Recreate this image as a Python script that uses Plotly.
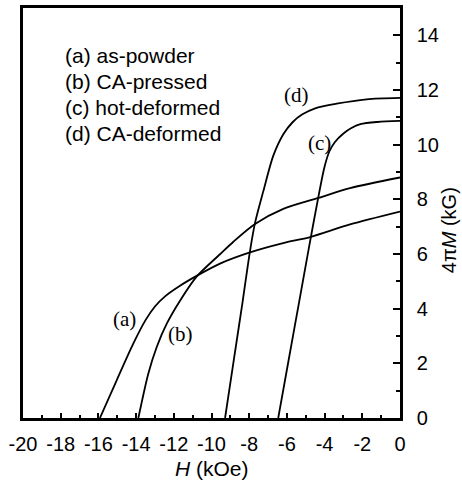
import plotly.graph_objects as go

# Curve data: H (kOe) and 4piM (kG)
a_H = [-15.92, -15.03, -14.15, -13.5, -13.0, -12.45, -11.67, -10.79, -9.55, -7.96, -6.2, -4.77, -2.65, 0]
a_M = [0, 1.38, 2.72, 3.58, 4.08, 4.46, 4.84, 5.2, 5.65, 6.06, 6.4, 6.62, 7.08, 7.55]

b_H = [-13.88, -13.35, -12.91, -12.38, -11.67, -10.79, -9.55, -8.84, -7.69, -6.19, -4.33, -2.65, 0]
b_M = [0, 1.63, 2.59, 3.44, 4.29, 5.17, 5.99, 6.45, 7.1, 7.65, 8.05, 8.41, 8.8]

c_H = [-6.46, -5.9, -5.35, -4.8, -4.3, -4.0, -3.75, -3.45, -3.0, -2.6, -2.1, -1.2, 0]
c_M = [0, 2.15, 4.25, 6.35, 8.2, 9.2, 9.75, 10.1, 10.41, 10.6, 10.75, 10.83, 10.87]

d_H = [-9.28, -8.8, -8.35, -7.96, -7.69, -7.25, -6.72, -6.19, -5.7, -5.2, -4.5, -3.36, -1.77, 0]
d_M = [0, 2.2, 4.25, 6.1, 7.14, 8.3, 9.6, 10.38, 10.82, 11.1, 11.33, 11.5, 11.66, 11.71]

x_ticks = [-20, -18, -16, -14, -12, -10, -8, -6, -4, -2, 0]
x_ticklabels = ["-20", "-18", "-16", "-14", "-12", "-10", "-8", "-6", "-4", "-2", "0"]
y_ticks = [0, 2, 4, 6, 8, 10, 12, 14]
y_ticklabels = ["0", "2", "4", "6", "8", "10", "12", "14"]

legend_lines = ["(a) as-powder", "(b) CA-pressed", "(c) hot-deformed", "(d) CA-deformed"]
curve_labels = ["(a)", "(b)", "(c)", "(d)"]
curve_label_H = [-14.59, -11.67, -4.28, -5.48]
curve_label_M = [3.62, 3.08, 10.05, 11.83]

fig = go.Figure()
for hs, ms in [(a_H, a_M), (b_H, b_M), (c_H, c_M), (d_H, d_M)]:
    fig.add_trace(go.Scatter(x=hs, y=ms, mode="lines",
                             line=dict(color="black", width=1.8, shape="spline", smoothing=0.8),
                             showlegend=False, hoverinfo="skip"))

sans = "Liberation Sans, Arial, sans-serif"
serif = "Liberation Serif, Times New Roman, serif"

for t, hx, my in zip(curve_labels, curve_label_H, curve_label_M):
    fig.add_annotation(x=hx, y=my, xref="x", yref="y", text=t, showarrow=False,
                       font=dict(family=serif, size=21, color="black"))

for i, t in enumerate(legend_lines):
    fig.add_annotation(x=-17.9, y=13.27 - i * 0.955, xref="x", yref="y", text=t,
                       showarrow=False, xanchor="left", yanchor="middle",
                       font=dict(family=sans, size=21, color="black"))

fig.add_annotation(x=0.501, y=-0.124, xref="paper", yref="paper", text="<i>H</i> (kOe)",
                   showarrow=False, xanchor="center", yanchor="middle",
                   font=dict(family=sans, size=21, color="black"))
fig.add_annotation(x=1.130, y=0.458, xref="paper", yref="paper", text="4π<i>M</i> (kG)",
                   showarrow=False, textangle=-90, xanchor="center", yanchor="middle",
                   font=dict(family=sans, size=20, color="black"))

fig.update_layout(
    width=462, height=482,
    margin=dict(l=23, r=62, t=5, b=64),
    paper_bgcolor="white", plot_bgcolor="white",
    xaxis=dict(range=[-20, 0], tickvals=x_ticks, ticktext=x_ticklabels,
               ticks="inside", ticklen=5, tickwidth=2, tickcolor="black",
               minor=dict(dtick=1, ticks="inside", ticklen=3, tickwidth=2, tickcolor="black"),
               showline=True, linecolor="black", linewidth=2.5, mirror=True,
               showgrid=False, zeroline=False, ticklabelstandoff=6,
               tickfont=dict(family=sans, size=20, color="black")),
    yaxis=dict(range=[0, 15], side="right", tickvals=y_ticks, ticktext=y_ticklabels,
               ticks="inside", ticklen=7, tickwidth=2, tickcolor="black",
               minor=dict(dtick=1, ticks="inside", ticklen=4, tickwidth=2, tickcolor="black"),
               showline=True, linecolor="black", linewidth=2.5, mirror=True,
               showgrid=False, zeroline=False, ticklabelstandoff=10,
               tickfont=dict(family=sans, size=20, color="black")),
)

fig.write_html("out.html")
